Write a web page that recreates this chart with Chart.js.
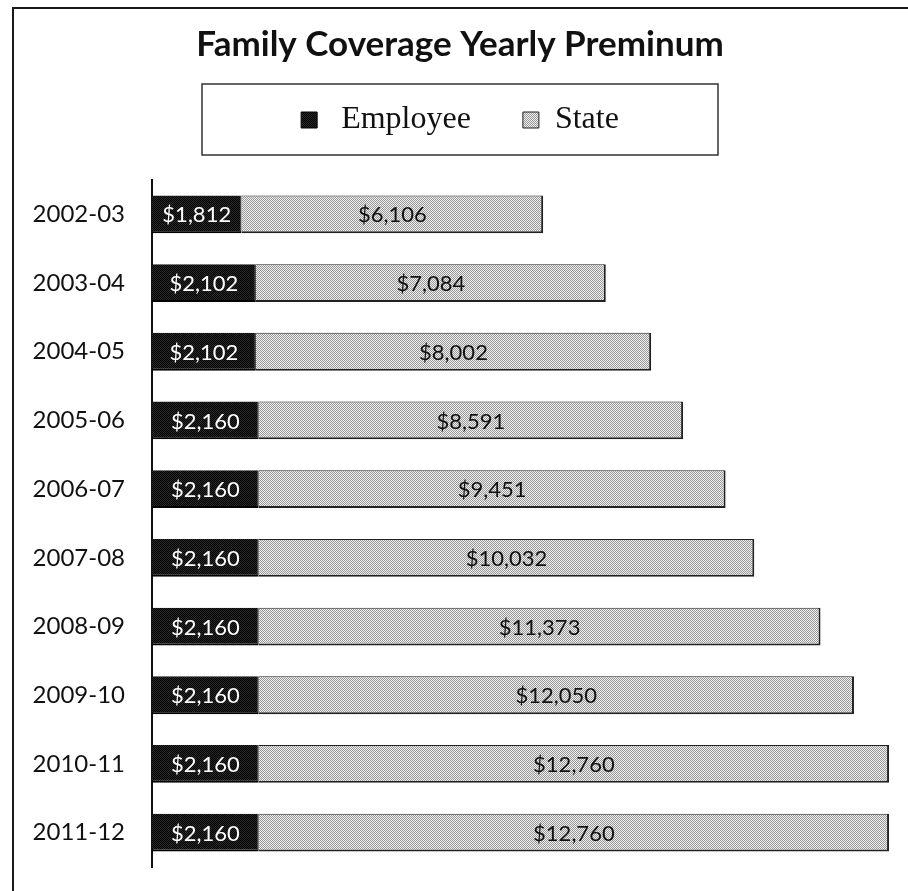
<!DOCTYPE html>
<html>
<head>
<meta charset="utf-8">
<script src="https://cdn.jsdelivr.net/npm/chart.js@4/dist/chart.umd.min.js"></script>
<style>
  body { margin: 0; background: #fff; }
  #wrap { position: relative; width: 908px; height: 891px; overflow: hidden; }
  #frame { position: absolute; left: 12px; top: 7px; width: 920px; height: 900px;
           border-top: 2px solid #1a1a1a; border-left: 2px solid #1a1a1a; }
  #chart { position: absolute; left: 0; top: 0; }
</style>
</head>
<body>
<div id="wrap">
  <div id="frame"></div>
  <canvas id="chart" width="908" height="891"></canvas>
</div>
<script>
/* data */
const years = ["2002-03", "2003-04", "2004-05", "2005-06", "2006-07",
               "2007-08", "2008-09", "2009-10", "2010-11", "2011-12"];
const employee = [1812, 2102, 2102, 2160, 2160, 2160, 2160, 2160, 2160, 2160];
const state = [6106, 7084, 8002, 8591, 9451, 10032, 11373, 12050, 12760, 12760];

/* dithered fills like the scanned print */
function dither(a, b, size) {
    const c = document.createElement("canvas");
    c.width = size; c.height = size;
    const g = c.getContext("2d");
    for (let y = 0; y < size; y++) {
        for (let x = 0; x < size; x++) {
            g.fillStyle = (x + y) % 2 === 0 ? a : b;
            g.fillRect(x, y, 1, 1);
        }
    }
    return g.createPattern(c, "repeat");
}
const ctx = document.getElementById("chart").getContext("2d");
const darkFill = dither("#000000", "#2a2a2a", 2);
const lightFill = dither("#999999", "#eeeeee", 2);

const money = v => "$" + v.toLocaleString("en-US");

// value labels inside the bars
const barLabels = {
    id: "barLabels",
    afterDatasetsDraw(chart) {
        const c = chart.ctx;
        c.save();
        c.font = "22px Lato";
        c.textAlign = "center";
        c.textBaseline = "middle";
        chart.data.datasets.forEach((ds, i) => {
            const meta = chart.getDatasetMeta(i);
            c.fillStyle = i === 0 ? "#ffffff" : "#111111";
            meta.data.forEach((bar, j) => {
                c.fillText(money(ds.data[j]), (bar.x + bar.base) / 2, bar.y + 1);
            });
        });
        c.restore();
    }
};

// box around the legend
const legendBox = {
    id: "legendBox",
    afterDraw(chart) {
        const lg = chart.legend;
        const cx = (lg.left + lg.right) / 2;
        const c = chart.ctx;
        c.save();
        c.strokeStyle = "#333";
        c.lineWidth = 1.5;
        c.strokeRect(cx - 258, lg.top, 516, lg.height + 9);
        c.restore();
    }
};

new Chart(ctx, {
    type: "bar",
    data: {
        labels: years,
        datasets: [
            {
                label: "Employee",
                data: employee,
                backgroundColor: darkFill,
                borderColor: "#000",
                borderWidth: {top: 0, right: 1, bottom: 2, left: 0},
                borderSkipped: false,
                barPercentage: 0.55,
                categoryPercentage: 1
            },
            {
                label: "State",
                data: state,
                backgroundColor: lightFill,
                borderColor: "#222",
                borderWidth: {top: 1, right: 2, bottom: 2, left: 0},
                borderSkipped: false,
                barPercentage: 0.55,
                categoryPercentage: 1
            }
        ]
    },
    options: {
        indexAxis: "y",
        responsive: false,
        animation: false,
        layout: {padding: {top: 24, left: 27, right: 15, bottom: 24}},
        plugins: {
            title: {
                display: true,
                text: "Family Coverage Yearly Preminum",
                color: "#111",
                font: {family: "Lato", size: 35, weight: "bold"},
                padding: {top: 0, bottom: 18}
            },
            legend: {
                display: true,
                position: "top",
                labels: {
                    color: "#111",
                    font: {family: "Liberation Serif", size: 32},
                    boxWidth: 16,
                    boxHeight: 16,
                    padding: 20,
                    generateLabels(chart) {
                        const items = Chart.defaults.plugins.legend.labels.generateLabels(chart);
                        items.forEach(it => {
                            it.lineWidth = 1;
                            it.text = it.datasetIndex === 0 ? " " + it.text + "    " : it.text;
                        });
                        return items;
                    }
                }
            },
            tooltip: {enabled: false}
        },
        scales: {
            x: {
                stacked: true,
                position: "top",
                min: 0,
                max: 15000,
                grid: {display: false, drawTicks: false},
                border: {display: false},
                ticks: {display: false},
                afterFit(s) { s.height = 34; }
            },
            y: {
                stacked: true,
                grid: {display: false, drawTicks: true, tickLength: 27},
                border: {display: true, color: "#111", width: 2},
                ticks: {
                    color: "#111",
                    padding: 0,
                    font: {family: "Lato", size: 24}
                },
                afterFit(s) { s.width = 125; }
            }
        }
    },
    plugins: [barLabels, legendBox]
});
</script>
</body>
</html>
